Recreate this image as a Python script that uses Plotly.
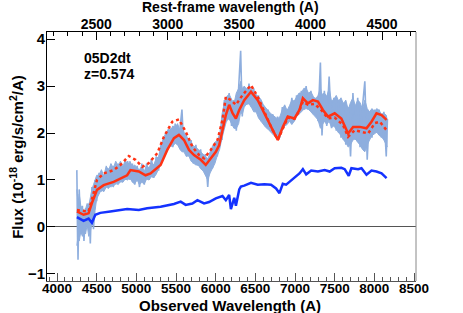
import plotly.graph_objects as go

# --- Data ---
spec_x = [4250, 4265, 4280, 4300, 4320, 4340, 4360, 4380, 4400, 4420, 4440, 4460, 4480, 4500, 4530, 4560, 4590,
          4620, 4650, 4680, 4710, 4740, 4770, 4800, 4830, 4860, 4890, 4920, 4950, 4980, 5010, 5040, 5070, 5100,
          5130, 5160, 5190, 5220, 5250, 5280, 5310, 5340, 5370, 5400, 5430, 5460, 5490, 5520, 5550, 5575, 5600,
          5630, 5660, 5690, 5720, 5750, 5780, 5810, 5840, 5870, 5900, 5930, 5960, 5990, 6020, 6050, 6080, 6110,
          6140, 6170, 6200, 6230, 6260, 6290, 6315, 6335, 6360, 6390, 6420, 6450, 6480, 6510, 6540, 6570, 6600,
          6630, 6660, 6690, 6720, 6750, 6780, 6810, 6840, 6870, 6900, 6930, 6960, 6990, 7020, 7050, 7080, 7110,
          7140, 7170, 7200, 7230, 7260, 7290, 7320, 7340, 7370, 7400, 7430, 7460, 7490, 7520, 7550, 7580, 7610,
          7640, 7670, 7700, 7730, 7760, 7790, 7820, 7850, 7880, 7910, 7940, 7970, 8000, 8030, 8060, 8090, 8120,
          8150, 8165]
spec_y = [1.21, -0.70, 0.80, -0.15, 0.45, -0.30, 0.40, 0.00, 0.50, -0.35, 0.85, -0.05, 1.00, 0.55, 1.15, 0.75, 1.10,
          0.85, 1.25, 0.85, 1.30, 0.90, 1.35, 0.95, 1.30, 1.00, 1.40, 1.00, 1.35, 0.90, 1.30, 0.85, 1.35, 0.90,
          1.35, 1.00, 1.45, 1.05, 1.50, 1.20, 1.75, 1.45, 2.00, 1.65, 2.10, 1.70, 2.20, 1.75, 2.10, 2.50, 1.60,
          1.95, 1.50, 1.85, 1.35, 1.75, 1.30, 1.65, 1.20, 1.55, 0.85, 1.60, 1.25, 1.80, 1.50, 2.00, 1.85, 2.70,
          2.25, 2.85, 2.15, 2.70, 2.05, 2.95, 3.75, 2.35, 3.00, 2.60, 3.05, 2.55, 2.95, 2.45, 2.80, 2.25, 2.60,
          2.15, 2.50, 2.05, 2.40, 1.95, 2.35, 1.90, 2.55, 2.15, 2.50, 2.25, 2.75, 2.25, 2.80, 2.40, 2.90, 2.50,
          3.00, 2.50, 2.90, 2.40, 2.75, 2.25, 3.50, 1.95, 2.90, 2.15, 3.20, 2.10, 2.75, 2.05, 2.70, 1.90, 2.65,
          1.75, 2.55, 1.50, 2.85, 1.85, 2.75, 1.70, 2.55, 3.10, 1.43, 2.45, 1.90, 2.50, 2.00, 2.50, 1.90, 2.45,
          1.50, 2.30]
band_lo = [-0.40, -0.2, -0.3, -0.1, -0.2, 0.0, -0.15, 0.05, -0.2, -0.1, 0.1, 0.0, 0.35, 0.6, 0.7, 0.8, 0.75,
           0.85, 0.82, 0.9, 0.85, 0.95, 0.9, 0.97, 0.95, 1.02, 1.0, 1.05, 0.95, 0.92, 1.0, 0.9, 0.95, 0.92,
           1.02, 1.0, 1.07, 1.05, 1.12, 1.22, 1.35, 1.5, 1.6, 1.68, 1.72, 1.72, 1.78, 1.75, 1.65, 1.6, 1.6,
           1.5, 1.52, 1.4, 1.36, 1.32, 1.32, 1.24, 1.2, 1.1, 1.0, 1.15, 1.25, 1.35, 1.52, 1.65, 1.9, 2.1,
           2.28, 2.3, 2.18, 2.1, 2.1, 2.2, 2.45, 2.4, 2.55, 2.62, 2.62, 2.55, 2.45, 2.45, 2.32, 2.25, 2.18,
           2.12, 2.08, 2.02, 1.98, 1.92, 1.9, 1.92, 2.05, 2.15, 2.18, 2.25, 2.18, 2.25, 2.35, 2.4, 2.45, 2.5,
           2.52, 2.5, 2.45, 2.4, 2.35, 2.28, 2.1, 2.15, 2.25, 2.18, 2.25, 2.12, 2.15, 2.08, 2.0, 1.95, 1.85,
           1.8, 1.7, 1.75, 1.85, 1.88, 1.8, 1.75, 1.65, 1.6, 1.75, 1.85, 1.95, 1.98, 2.02, 1.95, 1.92, 1.85,
           1.75, 1.7]
band_hi = [0.8, 0.5, 0.7, 0.45, 0.4, 0.32, 0.38, 0.5, 0.45, 0.65, 0.8, 0.9, 0.98, 1.1, 1.1, 1.22, 1.08,
           1.3, 1.2, 1.35, 1.25, 1.4, 1.3, 1.4, 1.28, 1.42, 1.32, 1.4, 1.28, 1.32, 1.25, 1.22, 1.3, 1.18,
           1.32, 1.25, 1.38, 1.32, 1.45, 1.5, 1.7, 1.9, 1.98, 2.08, 2.05, 2.15, 2.12, 2.2, 2.05, 2.2, 2.02,
           1.92, 1.85, 1.8, 1.72, 1.7, 1.65, 1.6, 1.55, 1.5, 1.45, 1.58, 1.72, 1.8, 1.85, 1.95, 2.4, 2.65,
           2.78, 2.82, 2.7, 2.62, 2.85, 2.95, 3.1, 2.95, 2.98, 2.95, 3.0, 2.95, 2.88, 2.82, 2.78, 2.72, 2.6,
           2.55, 2.48, 2.42, 2.38, 2.32, 2.3, 2.35, 2.5, 2.6, 2.48, 2.58, 2.7, 2.68, 2.78, 2.85, 2.85, 2.95,
           2.95, 2.85, 2.88, 2.78, 2.72, 2.8, 2.95, 2.82, 2.85, 2.78, 2.95, 2.68, 2.72, 2.8, 2.68, 2.75, 2.62,
           2.7, 2.5, 2.65, 2.75, 2.58, 2.7, 2.65, 2.5, 2.7, 2.52, 2.45, 2.52, 2.45, 2.52, 2.48, 2.4, 2.42,
           2.38, 2.25]

model_x = [4251, 4335, 4398, 4440, 4504, 4588, 4714, 4884, 4926, 5031, 5116, 5179, 5306, 5390, 5474, 5537,
           5601, 5664, 5727, 5812, 5875, 5938, 6002, 6044, 6086, 6128, 6170, 6213, 6255, 6297, 6360, 6445,
           6530, 6614, 6698, 6783, 6846, 6909, 6993, 7056, 7099, 7162, 7225, 7289, 7352, 7416, 7500, 7584,
           7669, 7732, 7816, 7901, 7964, 8027, 8091, 8154]
model_y = [0.33, 0.26, 0.29, 0.51, 0.79, 0.89, 0.96, 1.10, 1.21, 1.18, 1.10, 1.14, 1.32, 1.64, 1.89, 1.96,
           1.85, 1.64, 1.53, 1.43, 1.32, 1.46, 1.60, 1.74, 2.06, 2.38, 2.60, 2.42, 2.31, 2.49, 2.70, 2.88,
           2.70, 2.42, 2.13, 1.85, 2.13, 2.35, 2.31, 2.49, 2.74, 2.63, 2.70, 2.67, 2.49, 2.35, 2.42, 2.31,
           1.99, 2.13, 2.13, 2.10, 2.24, 2.42, 2.38, 2.28]

alt_x = [4251, 4398, 4461, 4504, 4588, 4714, 4799, 4905, 4989, 5074, 5158, 5264, 5348, 5453, 5537, 5622,
         5706, 5791, 5854, 5938, 6023, 6086, 6128, 6192, 6255, 6340, 6445, 6530, 6614, 6698, 6783, 6846,
         6909, 6993, 7056, 7099, 7162, 7247, 7331, 7416, 7500, 7605, 7669, 7753, 7858, 7922, 8006, 8069, 8154]
alt_y = [0.36, 0.33, 0.72, 1.00, 1.14, 1.21, 1.32, 1.51, 1.43, 1.28, 1.36, 1.57, 1.92, 2.24, 2.29, 2.03,
         1.71, 1.53, 1.46, 1.64, 1.85, 2.28, 2.77, 2.70, 2.60, 2.81, 3.02, 2.77, 2.45, 2.13, 1.85, 2.10,
         2.33, 2.30, 2.48, 2.67, 2.60, 2.62, 2.49, 2.31, 2.33, 2.17, 1.92, 2.06, 2.01, 1.99, 2.21, 2.24, 2.06]

host_x = [4251, 4335, 4398, 4440, 4483, 4546, 4672, 4884, 5031, 5137, 5306, 5474, 5559, 5622, 5706, 5770,
          5854, 5917, 6002, 6044, 6086, 6128, 6170, 6192, 6234, 6255, 6297, 6318, 6360, 6445, 6530, 6614,
          6698, 6761, 6804, 6846, 6888, 6930, 6993, 7056, 7099, 7141, 7204, 7289, 7373, 7437, 7500, 7584,
          7626, 7677, 7711, 7795, 7838, 7901, 7964, 8027, 8091, 8154]
host_y = [0.21, 0.13, 0.18, 0.09, 0.26, 0.30, 0.33, 0.38, 0.36, 0.40, 0.43, 0.49, 0.54, 0.47, 0.50, 0.57,
          0.50, 0.53, 0.61, 0.64, 0.66, 0.57, 0.68, 0.38, 0.62, 0.45, 0.80, 0.86, 0.88, 0.94, 0.90, 0.91,
          0.90, 0.82, 0.72, 0.92, 0.90, 0.96, 1.04, 1.14, 1.23, 1.12, 1.20, 1.18, 1.21, 1.18, 1.25, 1.26,
          1.23, 1.09, 1.25, 1.23, 1.25, 1.11, 1.20, 1.18, 1.14, 1.04]

obs_range = [3874, 8525]
rest_range = [2155, 4738]
flux_range = [-1.15, 4.15]

band_color = "rgb(142,174,222)"
FONT = "Liberation Sans"

fig = go.Figure()
fig.add_trace(go.Scatter(x=spec_x, y=band_lo, mode="lines", line=dict(color=band_color, width=1),
                         hoverinfo="skip", showlegend=False))
fig.add_trace(go.Scatter(x=spec_x, y=band_hi, mode="lines", line=dict(color=band_color, width=1),
                         fill="tonexty", fillcolor=band_color, hoverinfo="skip", showlegend=False))
fig.add_trace(go.Scatter(x=spec_x, y=spec_y, mode="lines", line=dict(color=band_color, width=1.6),
                         hoverinfo="skip", showlegend=False))
fig.add_trace(go.Scatter(x=alt_x, y=alt_y, mode="lines", line=dict(color="rgb(255,50,20)", width=2.5, dash="dot"),
                         showlegend=False))
fig.add_trace(go.Scatter(x=model_x, y=model_y, mode="lines", line=dict(color="rgb(255,50,20)", width=2.5),
                         showlegend=False))
fig.add_trace(go.Scatter(x=host_x, y=host_y, mode="lines", line=dict(color="rgb(20,50,255)", width=2.5),
                         showlegend=False))
# empty trace so the rest-frame (top) axis is drawn
fig.add_trace(go.Scatter(x=[], y=[], xaxis="x2", yaxis="y", showlegend=False, hoverinfo="skip"))

fig.update_layout(
    width=463, height=313,
    margin=dict(l=47, r=47, t=32, b=32),
    plot_bgcolor="white", paper_bgcolor="white",
    font=dict(family=FONT, size=14, color="black"),
    xaxis=dict(range=obs_range, dtick=500, tick0=4000, ticks="inside", ticklen=8, tickwidth=1,
               tickcolor="#555", showline=True, linecolor="#555", linewidth=1, showgrid=False,
               zeroline=False, automargin=False, ticklabelstandoff=-5,
               tickfont=dict(family=FONT, size=13.5, weight="bold"),
               minor=dict(dtick=100, tick0=4000, ticks="inside", ticklen=4, tickcolor="#555", showgrid=False)),
    xaxis2=dict(range=rest_range, overlaying="x", side="top", anchor="y", dtick=500, tick0=2500,
                ticks="inside", ticklen=8, tickwidth=1, tickcolor="black", showline=True, linecolor="black",
                linewidth=1, showgrid=False, zeroline=False, automargin=False, ticklabelstandoff=-4,
                tickfont=dict(family=FONT, size=14, weight="bold"),
                minor=dict(dtick=100, tick0=2500, ticks="inside", ticklen=4, tickcolor="black", showgrid=False)),
    yaxis=dict(range=flux_range, dtick=1, tick0=0, ticks="inside", ticklen=8, tickwidth=1, tickcolor="black",
               showline=True, linecolor="black", linewidth=1, showgrid=False, automargin=False,
               zeroline=True, zerolinecolor="#555", zerolinewidth=1, ticklabelstandoff=-2,
               tickfont=dict(family=FONT, size=15, weight="bold")),
    shapes=[dict(type="line", xref="paper", yref="paper", x0=1, x1=1, y0=0, y1=1,
                 line=dict(color="#888", width=1))],
    annotations=[
        dict(text="<b>05D2dt</b>", xref="paper", yref="paper", x=0.096, y=0.896, xanchor="left",
             yanchor="middle", showarrow=False, font=dict(family=FONT, size=14)),
        dict(text="<b>z=0.574</b>", xref="paper", yref="paper", x=0.096, y=0.831, xanchor="left",
             yanchor="middle", showarrow=False, font=dict(family=FONT, size=14)),
        dict(text="<b>Rest-frame wavelength (A)</b>", xref="paper", yref="paper", x=0.497, y=1,
             yshift=25, xanchor="center", yanchor="middle", showarrow=False, font=dict(family=FONT, size=14)),
        dict(text="<b>Observed Wavelength (A)</b>", xref="paper", yref="paper", x=0.497, y=0,
             yshift=-24, xanchor="center", yanchor="middle", showarrow=False, font=dict(family=FONT, size=15)),
        dict(text="<b>Flux (10<sup>-18</sup> erg/s/cm<sup>2</sup>/A)</b>", xref="paper", yref="paper",
             x=-0.083, y=0.5, textangle=-90, xanchor="center", yanchor="middle", showarrow=False,
             font=dict(family=FONT, size=15)),
    ],
)

fig.write_html("out.html", config={"displayModeBar": False},
               post_script="document.body.style.margin='0';")
